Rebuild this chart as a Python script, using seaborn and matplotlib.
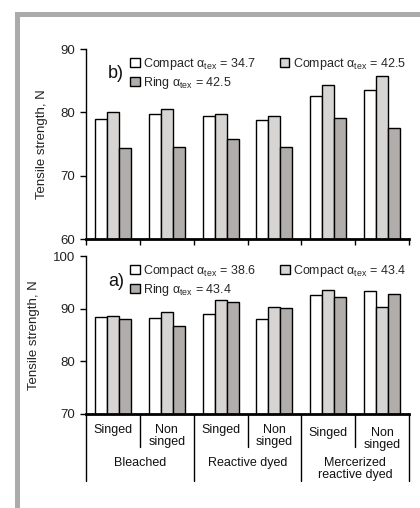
import matplotlib
matplotlib.use("Agg")
import matplotlib.pyplot as plt
from matplotlib.patches import Patch, Rectangle
import seaborn as sns
import pandas as pd

# ---------------- data ----------------
categories = ["B-S", "B-N", "R-S", "R-N", "M-S", "M-N"]
sub_labels = ["Singed", "Non\nsinged", "Singed", "Non\nsinged", "Singed", "Non\nsinged"]
group_labels = ["Bleached", "Reactive dyed", "Mercerized\nreactive dyed"]

# panel b)
b_series = ["Compact α$_{\\rm tex}$ = 34.7", "Compact α$_{\\rm tex}$ = 42.5", "Ring α$_{\\rm tex}$ = 42.5"]
b_compact_low = [79.0, 79.7, 79.4, 78.8, 82.6, 83.6]
b_compact_high = [80.0, 80.5, 79.8, 79.4, 84.3, 85.7]
b_ring = [74.4, 74.5, 75.8, 74.5, 79.1, 77.5]

# panel a)
a_series = ["Compact α$_{\\rm tex}$ = 38.6", "Compact α$_{\\rm tex}$ = 43.4", "Ring α$_{\\rm tex}$ = 43.4"]
a_compact_low = [88.5, 88.2, 88.9, 88.1, 92.6, 93.3]
a_compact_high = [88.6, 89.3, 91.6, 90.3, 93.6, 90.4]
a_ring = [88.0, 86.7, 91.3, 90.2, 92.2, 92.8]

colors = ["#ffffff", "#d8d5d2", "#b1adaa"]

sns.set_theme(style="white")
plt.rcParams["font.family"] = ["Liberation Sans", "DejaVu Sans"]
plt.rcParams["mathtext.fontset"] = "custom"
plt.rcParams["mathtext.rm"] = "Liberation Sans"
plt.rcParams["mathtext.it"] = "Liberation Sans:italic"
plt.rcParams["mathtext.bf"] = "Liberation Sans:bold"

W, H = 420, 508
fig = plt.figure(figsize=(W / 100, H / 100), dpi=100)
fig.patch.set_facecolor("white")

# gray frame (left and top)
fig.patches.append(Rectangle((15 / W, 0), 5 / W, 1 - 12 / H, transform=fig.transFigure,
                             facecolor="#ababab", edgecolor="none"))
fig.patches.append(Rectangle((15 / W, 1 - 17 / H), 1, 5 / H, transform=fig.transFigure,
                             facecolor="#ababab", edgecolor="none"))

ax_b = fig.add_axes([86 / W, 1 - 239 / H, 323 / W, 190 / H])
ax_a = fig.add_axes([86 / W, 1 - 414 / H, 323 / W, 158 / H])


def make_df(series, vals):
    rows = []
    for s, v in zip(series, vals):
        for c, y in zip(categories, v):
            rows.append({"cat": c, "series": s, "value": y})
    return pd.DataFrame(rows)


def draw(ax, series, vals, ylim, ticks, tag, hpx):
    df = make_df(series, vals)
    sns.barplot(data=df, x="cat", y="value", hue="series", hue_order=series,
                order=categories, palette=colors, width=0.67, gap=0,
                edgecolor="black", linewidth=1.0, errorbar=None, legend=False, ax=ax)
    ax.set_ylim(*ylim)
    ax.set_xlim(-0.5, 5.5)
    ax.set_yticks(ticks)
    ax.set_yticklabels([str(t) for t in ticks], fontsize=9.5, color="#222222")
    ax.set_xlabel("")
    ax.set_ylabel("Tensile strength, N", fontsize=9.5, color="#222222", labelpad=9)
    for s in ["top", "right"]:
        ax.spines[s].set_visible(False)
    ax.spines["left"].set_linewidth(1.0)
    ax.spines["left"].set_color("black")
    ax.spines["bottom"].set_linewidth(2.0)
    ax.spines["bottom"].set_color("black")
    ax.tick_params(axis="y", left=True, direction="out", length=4, width=1, pad=4, color="black")
    ax.set_facecolor("white")
    handles = [Patch(facecolor=colors[0], edgecolor="black", linewidth=1.0, label=series[0]),
               Patch(facecolor=colors[2], edgecolor="black", linewidth=1.0, label=series[2]),
               Patch(facecolor=colors[1], edgecolor="black", linewidth=1.0, label=series[1])]
    ax.legend(handles=handles, ncol=2, frameon=False, fontsize=9,
              loc="upper left", bbox_to_anchor=(0.118, 1 - 0.5 / hpx), borderpad=0,
              handlelength=0.75, handleheight=0.75, handletextpad=0.3,
              columnspacing=1.9, labelspacing=0.25)
    ax.text(0.068, 1 - 16.5 / hpx, tag, transform=ax.transAxes,
            fontsize=13, va="top", ha="left", color="#111111")


draw(ax_b, b_series, [b_compact_low, b_compact_high, b_ring], (60, 90), [60, 70, 80, 90], "b)", 190.0)
draw(ax_a, a_series, [a_compact_low, a_compact_high, a_ring], (70, 100), [70, 80, 90, 100], "a)", 158.0)

# top panel: small ticks at group boundaries
ax_b.set_xticks([i - 0.5 for i in range(7)])
ax_b.set_xticklabels([])
ax_b.tick_params(axis="x", bottom=True, direction="out", length=4, width=1, color="black")

# bottom panel: category labels and separators
ax_a.set_xticks([])
trans = ax_a.get_xaxis_transform()
px = 1.0 / 158.0  # one pixel in axes fraction
for i, lab in enumerate(sub_labels):
    off = 3 if i >= 4 else 0
    ax_a.text(i, -(10 + off) * px, lab, transform=trans, ha="center", va="top",
              fontsize=9, color="#111111", linespacing=0.95)
for j, lab in enumerate(group_labels):
    ax_a.text(2 * j + 0.5, -43 * px, lab, transform=trans, ha="center", va="top",
              fontsize=9, color="#111111", linespacing=1.05)
for xb in [0.5, 2.5, 4.5]:
    ax_a.plot([xb, xb], [0, -33 * px], transform=trans, color="black", lw=1, clip_on=False)
for xb in [-0.5, 1.5, 3.5, 5.5]:
    ax_a.plot([xb, xb], [0, -67 * px], transform=trans, color="black", lw=1, clip_on=False)

fig.savefig("out.png", dpi=100, facecolor="white")
